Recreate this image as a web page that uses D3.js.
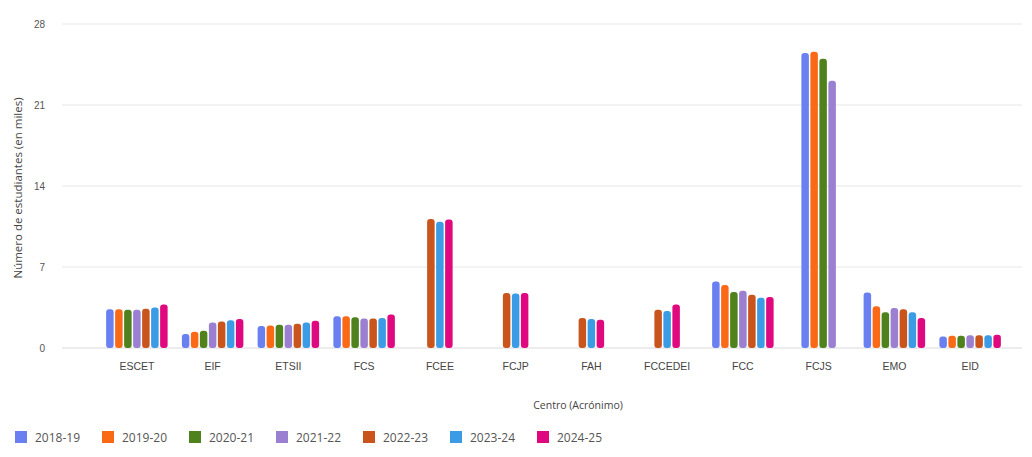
<!DOCTYPE html>
<html><head><meta charset="utf-8">
<script src="https://cdn.jsdelivr.net/npm/d3@7"></script>
<style>
html,body{margin:0;padding:0;background:#fff;}
svg{display:block;font-family:"Open Sans","Noto Sans",sans-serif;}
</style></head>
<body><svg id="chart" width="1032" height="457"></svg>
<script>
const categories = ["ESCET","EIF","ETSII","FCS","FCEE","FCJP","FAH","FCCEDEI","FCC","FCJS","EMO","EID"];
const seriesNames = ["2018-19","2019-20","2020-21","2021-22","2022-23","2023-24","2024-25"];
const seriesColors = ["#6a7ff0","#fa6a16","#4f821c","#9b7fd0","#c9541c","#3b9be5","#e0087f"];
const s2018_19 = [3.35, 1.2, 1.9, 2.75, null, null, null, null, 5.75, 25.5, 4.8, 1.0];
const s2019_20 = [3.35, 1.4, 1.95, 2.75, null, null, null, null, 5.45, 25.6, 3.6, 1.05];
const s2020_21 = [3.3, 1.5, 2.0, 2.65, null, null, null, null, 4.85, 25.0, 3.1, 1.05];
const s2021_22 = [3.3, 2.2, 2.0, 2.55, null, null, null, null, 4.95, 23.1, 3.45, 1.1];
const s2022_23 = [3.4, 2.3, 2.1, 2.55, 11.15, 4.75, 2.6, 3.3, 4.6, null, 3.35, 1.1];
const s2023_24 = [3.5, 2.4, 2.2, 2.6, 10.9, 4.7, 2.5, 3.2, 4.35, null, 3.1, 1.1];
const s2024_25 = [3.75, 2.5, 2.35, 2.9, 11.1, 4.75, 2.45, 3.75, 4.4, null, 2.6, 1.15];
const seriesValues = [s2018_19, s2019_20, s2020_21, s2021_22, s2022_23, s2023_24, s2024_25];
const yTicks = [0, 7, 14, 21, 28];
const yTitle = "Número de estudiantes (en miles)";
const xTitle = "Centro (Acrónimo)";

const svg = d3.select("#chart");
const x = d3.scaleBand().domain(categories).range([99, 1008]);
const y = d3.scaleLinear().domain([0, 28]).range([348, 24]);

// gridlines
svg.append("g").selectAll("line").data(yTicks).join("line")
  .attr("x1", 62).attr("x2", 1022)
  .attr("y1", d => y(d)).attr("y2", d => y(d))
  .attr("stroke", d => d === 0 ? "#d9d9d9" : "#e8e8e8").attr("stroke-width", 1.2);

// y axis labels
const yAxis = d3.axisLeft(y).tickValues(yTicks).tickSize(0).tickPadding(0);
const gy = svg.append("g").attr("transform", "translate(45,0)").call(yAxis);
gy.select(".domain").remove();
gy.selectAll("text").attr("fill", "#555").attr("font-size", 10);

// x axis labels
const xAxis = d3.axisBottom(x).tickSize(0).tickPadding(0);
const gx = svg.append("g").attr("transform", "translate(0,363)").call(xAxis);
gx.select(".domain").remove();
gx.selectAll("text").attr("fill", "#444").attr("font-size", 10.5).attr("dy", "0.71em");

// bars
const barStep = 9, barW = 7.5;
const bars = [];
categories.forEach((c, ci) => {
  const present = seriesValues.map((arr, si) => ({si, v: arr[ci]})).filter(d => d.v != null);
  const n = present.length;
  present.forEach((d, k) => {
    const cx = x(c) + x.bandwidth() / 2 + (k - (n - 1) / 2) * barStep;
    bars.push({cx, v: d.v, si: d.si});
  });
});
svg.append("g").selectAll("rect").data(bars).join("rect")
  .attr("x", d => d.cx - barW / 2).attr("width", barW)
  .attr("y", d => y(d.v)).attr("height", d => y(0) - y(d.v))
  .attr("rx", 3).attr("ry", 3)
  .attr("fill", d => seriesColors[d.si]);

// titles
svg.append("text").attr("transform", "translate(22,188) rotate(-90)")
  .attr("text-anchor", "middle").attr("font-size", 11.5).attr("fill", "#444").text(yTitle);
svg.append("text").attr("x", 578).attr("y", 409)
  .attr("text-anchor", "middle").attr("font-size", 10.5).attr("fill", "#444").text(xTitle);

// legend
const lg = svg.append("g").attr("transform", "translate(15,431)");
const item = lg.selectAll("g").data(seriesNames).join("g")
  .attr("transform", (d, i) => `translate(${i * 87},0)`);
item.append("rect").attr("width", 12).attr("height", 12).attr("fill", (d, i) => seriesColors[i]);
item.append("text").attr("x", 20).attr("y", 11).attr("font-size", 12).attr("fill", "#555").text(d => d);
</script></body></html>
